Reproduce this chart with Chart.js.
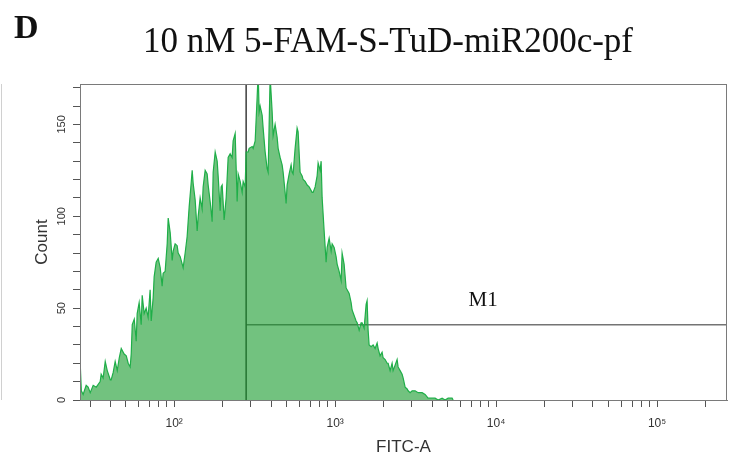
<!DOCTYPE html>
<html>
<head>
<meta charset="utf-8">
<script src="https://cdn.jsdelivr.net/npm/chart.js@4.4.1/dist/chart.umd.min.js"></script>
<style>
  html, body { margin: 0; padding: 0; background: #fff; }
</style>
</head>
<body>
<canvas id="histo" width="740" height="462"></canvas>
<script>
// FITC-A channel values (log scale) and event counts
var fitc = [
  26.1, 26.5, 27.2, 28.4, 29.2, 30.1, 31.4, 32.8, 34.7, 35.2,
  36.2, 37.3, 38.4, 40.1, 40.6, 41.8, 43.0, 44.3, 45.6, 46.9,
  48.9, 50.4, 51.8, 53.3, 54.1, 54.9, 56.5, 58.1, 58.9, 60.6,
  62.4, 63.3, 65.1, 67.0, 68.9, 70.9, 72.0, 74.1, 75.1, 77.3,
  79.6, 81.9, 84.2, 85.4, 87.9, 90.5, 91.8, 94.5, 97.2, 98.6,
  101.4, 104.4, 105.9, 109.0, 113.7, 117.0, 120.4, 123.9, 127.5, 129.4,
  131.2, 135.0, 139.0, 141.0, 145.0, 149.2, 151.4, 155.8, 160.3, 162.6,
  167.3, 169.7, 172.2, 174.7, 179.8, 185.0, 187.6, 193.1, 195.8, 198.7,
  204.4, 210.4, 216.5, 222.8, 229.2, 232.5, 239.3, 246.2, 249.8, 257.0,
  264.5, 268.3, 276.1, 280.0, 288.2, 292.3, 305.2, 309.6, 318.6, 327.8,
  332.5, 337.3, 342.1, 352.1, 357.1, 367.5, 378.1, 383.6, 394.7, 406.1,
  411.9, 423.8, 436.2, 442.5, 455.3, 468.5, 475.2, 489.0, 496.1, 503.2,
  517.8, 532.8, 540.5, 548.2, 564.2, 580.6, 588.9, 606.0, 623.7, 632.7,
  651.2, 670.0, 689.4, 719.6, 730.1, 751.3, 773.0, 784.1, 806.9, 818.5,
  830.4, 854.5, 879.2, 891.9, 917.8, 944.6, 958.0, 985.8, 1014, 1029,
  1059, 1090, 1105, 1137, 1170, 1187, 1222, 1257, 1275, 1312,
  1350, 1370, 1410, 1450, 1471, 1514, 1558, 1580, 1603, 1626,
  1673, 1722, 1772, 1824, 1850, 1903, 1958, 1987, 2045, 2104,
  2134, 2196, 2259, 2292, 2359, 2427, 2462, 2533, 2607, 2645,
  2722, 2801, 2841, 2923, 3008, 3140, 3277, 3471, 3622, 3781,
  4005, 4180, 4364, 4620, 4822, 5034, 5331, 5408
];
var count = [
  19, 5, 3, 8, 7, 4, 8, 7, 10, 14,
  12, 21, 16, 11, 11, 15, 21, 16, 23, 28,
  25, 24, 20, 18, 25, 41, 44, 32, 47, 53,
  41, 57, 47, 50, 45, 60, 43, 56, 67, 75,
  77, 72, 62, 69, 70, 85, 99, 91, 76, 81,
  85, 84, 80, 78, 72, 80, 89, 105, 118, 125,
  118, 109, 92, 100, 110, 104, 116, 125, 123, 117,
  108, 103, 97, 124, 135, 130, 122, 103, 116, 117,
  98, 110, 132, 134, 132, 141, 145, 108, 123, 119,
  113, 119, 116, 135, 135, 137, 138, 137, 141, 165,
  178, 157, 160, 155, 148, 135, 126, 124, 176, 157,
  144, 150, 143, 137, 132, 128, 124, 113, 107, 117,
  123, 128, 124, 123, 137, 148, 146, 124, 122, 120,
  119, 117, 116, 113, 113, 116, 122, 129, 125, 130,
  110, 92, 75, 83, 88, 81, 85, 83, 78, 74,
  70, 65, 80, 74, 61, 60, 58, 53, 49, 46,
  43, 42, 38, 42, 42, 39, 52, 54, 38, 30,
  29, 30, 28, 31, 28, 24, 26, 23, 22, 20,
  20, 16, 20, 16, 19, 22, 18, 16, 14, 12,
  7, 6, 5, 4, 5, 5, 4, 4, 3, 1,
  1, 1, 0, 1, 0, 1, 1, 0
];

var xTicks = [
  30, 40, 50, 60, 70, 80, 90,
  100, 200, 300, 400, 500, 600, 700, 800, 900,
  1000, 2000, 3000, 4000, 5000, 6000, 7000, 8000, 9000,
  10000, 20000, 30000, 40000, 50000, 60000, 70000, 80000, 90000,
  100000, 200000
];
var decadeLabels = { 100: '10²', 1000: '10³', 10000: '10⁴', 100000: '10⁵' };
var yLabelled = [0, 50, 100, 150];

var xMin = 26, xMax = 272000;
var yMax = 172;

// gate marker M1
var gateStart = 280;
var gateLevel = 41;
var gateLabel = 'M1';
var gateLabelPos = { x: 8300, y: 54 };

var panelLetter = 'D';
var titleText = '10 nM 5-FAM-S-TuD-miR200c-pf';

var histPoints = [];
for (var i = 0; i < fitc.length; i++) {
  histPoints.push({ x: fitc[i], y: count[i] });
}

var decorations = {
  id: 'decorations',
  afterDraw: function (chart) {
    var ctx = chart.ctx;
    var a = chart.chartArea;
    var xs = chart.scales.x, ys = chart.scales.y;
    ctx.save();
    // plot frame
    ctx.strokeStyle = '#7a7a7a';
    ctx.lineWidth = 1;
    ctx.strokeRect(a.left + 0.5, a.top + 0.5, a.right - a.left - 1, a.bottom - a.top);
    // faint panel edge on the far left
    ctx.strokeStyle = '#d0d0d0';
    ctx.beginPath();
    ctx.moveTo(1.5, a.top);
    ctx.lineTo(1.5, a.bottom);
    ctx.stroke();
    // panel letter and title
    ctx.fillStyle = '#111';
    ctx.textBaseline = 'alphabetic';
    ctx.textAlign = 'left';
    ctx.font = 'bold 34px "Liberation Serif", "DejaVu Serif", serif';
    ctx.fillText(panelLetter, 14, 38);
    ctx.textAlign = 'center';
    ctx.font = '35px "Liberation Serif", "DejaVu Serif", serif';
    ctx.fillText(titleText, 388, 52);
    // gate label
    ctx.font = '21px "Liberation Serif", "DejaVu Serif", serif';
    ctx.textBaseline = 'middle';
    ctx.fillText(gateLabel, xs.getPixelForValue(gateLabelPos.x), ys.getPixelForValue(gateLabelPos.y));
    ctx.restore();
  }
};

new Chart(document.getElementById('histo'), {
  type: 'line',
  data: {
    datasets: [
      {
        data: histPoints,
        borderColor: '#1fae48',
        borderWidth: 1.2,
        backgroundColor: 'rgba(20,153,42,0.6)',
        fill: 'origin',
        pointRadius: 0,
        tension: 0
      },
      {
        data: [{ x: gateStart, y: 0 }, { x: gateStart, y: yMax }],
        borderColor: '#3c3c3c',
        borderWidth: 1.5,
        pointRadius: 0,
        fill: false
      },
      {
        data: [{ x: gateStart, y: gateLevel }, { x: xMax, y: gateLevel }],
        borderColor: '#747474',
        borderWidth: 1.5,
        pointRadius: 0,
        fill: false
      }
    ]
  },
  options: {
    responsive: false,
    animation: false,
    layout: { padding: { top: 84, right: 13, left: 0, bottom: 0 } },
    plugins: {
      legend: { display: false },
      tooltip: { enabled: false },
      title: { display: false }
    },
    scales: {
      x: {
        type: 'logarithmic',
        min: xMin,
        max: xMax,
        afterBuildTicks: function (scale) {
          scale.ticks = xTicks.map(function (v) { return { value: v, major: !!decadeLabels[v] }; });
        },
        afterFit: function (scale) { scale.height = 62; },
        grid: { drawOnChartArea: false, drawTicks: true, tickLength: 7, tickColor: '#555' },
        border: { display: true, color: '#7a7a7a' },
        ticks: {
          autoSkip: false,
          maxRotation: 0,
          minRotation: 0,
          padding: 9,
          color: '#333',
          font: { family: '"Liberation Sans", Arial, sans-serif', size: 12 },
          callback: function (value) { return decadeLabels[value] || ''; }
        },
        title: {
          display: true,
          text: 'FITC-A',
          color: '#333',
          font: { family: '"Liberation Sans", Arial, sans-serif', size: 17 },
          padding: { top: 0, bottom: 4 }
        }
      },
      y: {
        type: 'linear',
        min: 0,
        max: yMax,
        afterFit: function (scale) { scale.width = 80; },
        grid: { drawOnChartArea: false, drawTicks: true, tickLength: 7, tickColor: '#555' },
        border: { display: true, color: '#7a7a7a' },
        ticks: {
          stepSize: 10,
          includeBounds: false,
          autoSkip: false,
          minRotation: 90,
          maxRotation: 90,
          crossAlign: 'center',
          padding: 2,
          color: '#333',
          font: { family: '"Liberation Sans", Arial, sans-serif', size: 11 },
          callback: function (value) { return yLabelled.indexOf(value) >= 0 ? String(value) : ''; }
        },
        title: {
          display: true,
          text: 'Count',
          color: '#333',
          font: { family: '"Liberation Sans", Arial, sans-serif', size: 17 },
          padding: { top: 32, bottom: 0 }
        }
      }
    }
  },
  plugins: [decorations]
});
</script>
</body>
</html>
